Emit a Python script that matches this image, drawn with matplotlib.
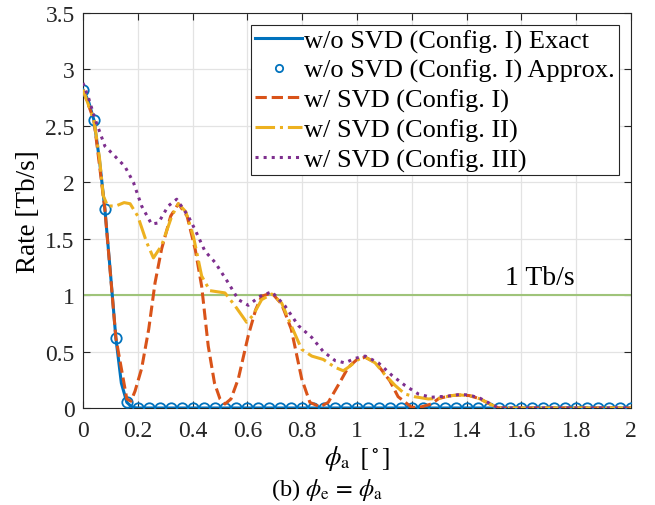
import numpy as np
import matplotlib
matplotlib.use('Agg')
import matplotlib.pyplot as plt

plt.rcParams['font.family'] = ['Liberation Serif', 'DejaVu Serif']
plt.rcParams['mathtext.fontset'] = 'stix'

# w/o SVD (Config. I) exact
x_exact = [0, 0.02, 0.04, 0.06, 0.08, 0.10, 0.12, 0.14, 0.16, 0.18, 0.20, 2.0]
y_exact = [2.82, 2.72, 2.55, 2.20, 1.76, 1.20, 0.62, 0.22, 0.05, 0.005, 0.0, 0.0]

# w/o SVD (Config. I) approx (markers every 0.04)
x_approx = np.linspace(0, 2, 51)
y_approx = [2.82, 2.55, 1.76, 0.62, 0.05] + [0.0] * 46

# w/ SVD (Config. I)
x_c1 = [0, 0.04, 0.08, 0.12, 0.16, 0.175, 0.19, 0.214, 0.24, 0.263, 0.287, 0.32, 0.348,
        0.38, 0.41, 0.433, 0.457, 0.48, 0.50, 0.518, 0.54, 0.567, 0.603, 0.63, 0.652,
        0.689, 0.725, 0.76, 0.798, 0.828, 0.865, 0.895, 0.938, 0.968, 1.0, 1.03, 1.07,
        1.12, 1.15, 1.2, 1.235, 1.27, 1.30, 1.345, 1.376, 1.41, 1.45, 1.485, 1.516, 2.0]
y_c1 = [2.82, 2.55, 1.76, 0.62, 0.08, 0.06, 0.15, 0.35, 0.70, 1.11, 1.41, 1.70, 1.81,
        1.70, 1.40, 1.08, 0.55, 0.22, 0.08, 0.035, 0.08, 0.26, 0.64, 0.87, 0.99,
        1.02, 0.92, 0.70, 0.26, 0.05, 0.01, 0.05, 0.23, 0.36, 0.43, 0.45, 0.40,
        0.24, 0.10, 0.005, 0.01, 0.035, 0.086, 0.11, 0.115, 0.11, 0.08, 0.035, 0.0, 0.0]

# w/ SVD (Config. II)
x_c2 = [0, 0.04, 0.06, 0.074, 0.09, 0.12, 0.15, 0.172, 0.2, 0.232, 0.257, 0.287, 0.324,
        0.348, 0.375, 0.403, 0.433, 0.463, 0.49, 0.518, 0.555, 0.597, 0.62, 0.652, 0.689,
        0.725, 0.76, 0.798, 0.835, 0.877, 0.92, 0.95, 0.968, 1.005, 1.03, 1.066, 1.10,
        1.139, 1.175, 1.21, 1.26, 1.30, 1.345, 1.376, 1.41, 1.45, 1.485, 1.516, 2.0]
y_c2 = [2.82, 2.55, 2.22, 1.88, 1.79, 1.79, 1.82, 1.81, 1.70, 1.47, 1.33, 1.44, 1.70,
        1.81, 1.74, 1.52, 1.17, 1.04, 1.03, 1.02, 0.905, 0.76, 0.82, 0.96, 1.01,
        0.93, 0.73, 0.52, 0.46, 0.43, 0.36, 0.33, 0.36, 0.43, 0.45, 0.40, 0.30,
        0.20, 0.124, 0.10, 0.08, 0.086, 0.11, 0.115, 0.11, 0.08, 0.035, 0.0, 0.0]

# w/ SVD (Config. III)
x_c3 = [0, 0.02, 0.044, 0.08, 0.117, 0.153, 0.184, 0.214, 0.25, 0.275, 0.311, 0.342,
        0.384, 0.409, 0.445, 0.482, 0.53, 0.567, 0.603, 0.646, 0.689, 0.737, 0.786,
        0.835, 0.877, 0.92, 0.956, 0.993, 1.03, 1.078, 1.127, 1.175, 1.224, 1.27, 1.33,
        1.376, 1.41, 1.45, 1.485, 1.516, 2.0]
y_c3 = [2.88, 2.75, 2.56, 2.32, 2.23, 2.14, 2.0, 1.79, 1.63, 1.64, 1.79, 1.85,
        1.70, 1.58, 1.39, 1.29, 1.11, 0.96, 0.91, 0.99, 1.03, 0.905, 0.73,
        0.625, 0.50, 0.42, 0.40, 0.44, 0.46, 0.40, 0.29, 0.20, 0.124, 0.095, 0.105,
        0.12, 0.115, 0.085, 0.04, 0.0, 0.0]

threshold = 1.0

fig = plt.figure(figsize=(6.55, 5.06), dpi=100)
ax = fig.add_axes([0.1267, 0.1917, 0.8367, 0.7806])

ax.axhline(threshold, color='#9fc47a', lw=1.5, zorder=1)
ax.text(1.54, 1.10, '1 Tb/s', fontsize=20, va='baseline', ha='left')

ax.plot(x_exact, y_exact, color='#0072BD', lw=2.2, label='w/o SVD (Config. I) Exact', zorder=3)
ax.plot(x_approx, y_approx, 'o', color='#0072BD', mfc='none', ms=7.5, mew=1.3,
        label='w/o SVD (Config. I) Approx.', zorder=3)
ax.plot(x_c1, y_c1, '--', color='#D95319', lw=2.2, label='w/ SVD (Config. I)', zorder=4)
ax.plot(x_c2, y_c2, '-.', color='#EDB120', lw=2.2, label='w/ SVD (Config. II)', zorder=5)
ax.plot(x_c3, y_c3, ':', color='#7E2F8E', lw=2.2, label='w/ SVD (Config. III)', zorder=6)

ax.set_xlim(0, 2)
ax.set_ylim(0, 3.5)
ax.set_xticks(np.arange(0, 2.01, 0.2))
ax.set_xticklabels(['0', '0.2', '0.4', '0.6', '0.8', '1', '1.2', '1.4', '1.6', '1.8', '2'])
ax.set_yticks(np.arange(0, 3.51, 0.5))
ax.set_yticklabels(['0', '0.5', '1', '1.5', '2', '2.5', '3', '3.5'])
ax.tick_params(direction='in', top=True, right=True, labelsize=17, length=5, width=0.8,
               colors='#262626', labelcolor='#262626')
ax.tick_params(axis='x', pad=9)
ax.tick_params(axis='y', pad=6)
ax.grid(True, color='#e3e3e3', lw=0.9)
ax.set_axisbelow(True)
for s in ax.spines.values():
    s.set_color('#262626')
    s.set_linewidth(0.8)

ax.set_ylabel('Rate [Tb/s]', fontsize=19.5, labelpad=3)
ax.set_xlabel(r'$\phi_\mathrm{a}\ \,[^\circ]$', fontsize=19, labelpad=1)
fig.text(0.5, 0.031, r'(b) $\phi_\mathrm{e}\,=\,\phi_\mathrm{a}$', fontsize=17.5, ha='center', va='center')

leg = ax.legend(loc='upper right', bbox_to_anchor=(0.978, 0.970), fontsize=19,
                handlelength=1.75, handletextpad=0.1, borderpad=0.15, labelspacing=0.22,
                borderaxespad=0, fancybox=False, framealpha=1, edgecolor='#262626',
                markerscale=0.7)
leg.get_frame().set_linewidth(0.8)

fig.savefig('out.png', dpi=100)
